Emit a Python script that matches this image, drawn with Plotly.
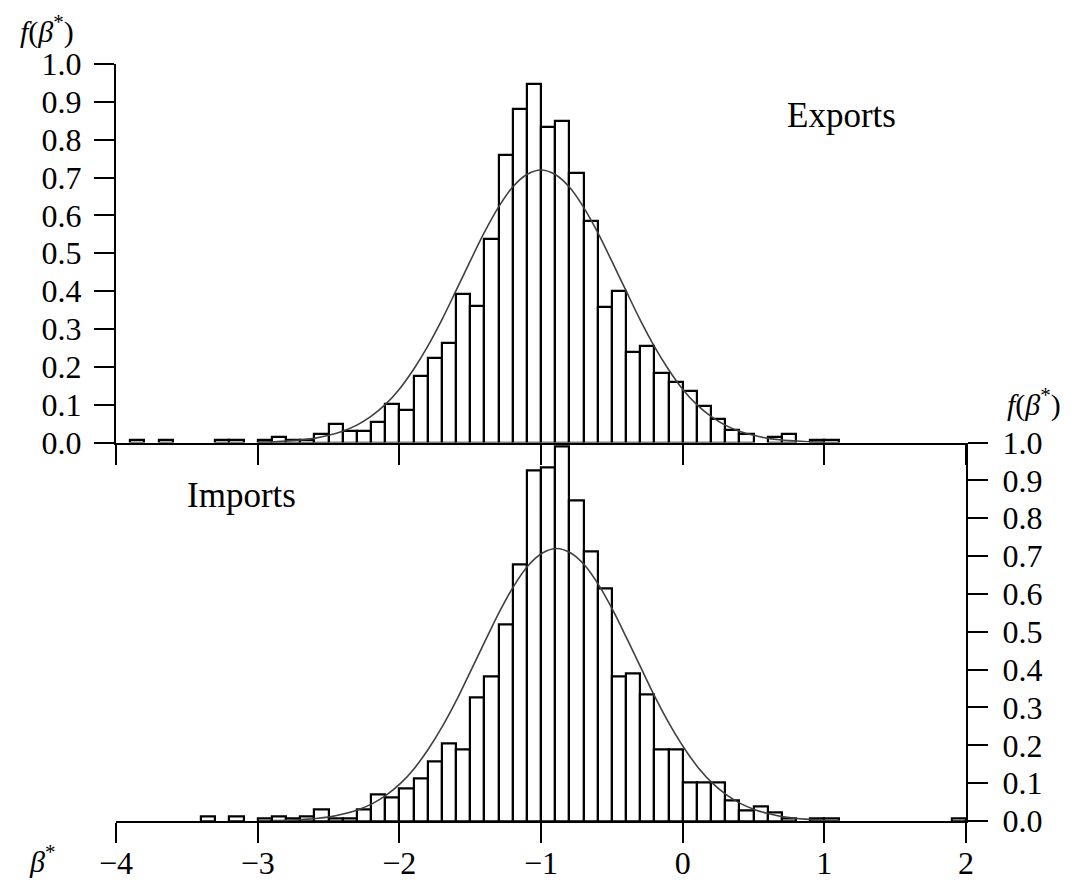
import plotly.graph_objects as go

# ---- Exports histogram (bin left edges, width 0.1) ----
exp_edges = [-3.9, -3.7, -3.3, -3.2, -3.0, -2.9, -2.8, -2.7, -2.6, -2.5, -2.4, -2.3, -2.2,
             -2.1, -2.0, -1.9, -1.8, -1.7, -1.6, -1.5, -1.4, -1.3, -1.2, -1.1, -1.0,
             -0.9, -0.8, -0.7, -0.6, -0.5, -0.4, -0.3, -0.2, -0.1, 0.0, 0.1, 0.2,
             0.3, 0.4, 0.6, 0.7, 0.9, 1.0]
exp_vals = [0.007, 0.007, 0.007, 0.007, 0.007, 0.014, 0.007, 0.007, 0.023, 0.048, 0.030, 0.030, 0.055,
            0.102, 0.085, 0.176, 0.224, 0.263, 0.392, 0.360, 0.537, 0.760, 0.882, 0.946, 0.834,
            0.850, 0.712, 0.586, 0.359, 0.401, 0.240, 0.256, 0.184, 0.160, 0.136, 0.096, 0.062,
            0.032, 0.023, 0.015, 0.023, 0.007, 0.007]

# ---- Imports histogram ----
imp_edges = [-3.4, -3.2, -3.0, -2.9, -2.8, -2.7, -2.6, -2.5, -2.4, -2.3, -2.2, -2.1, -2.0,
             -1.9, -1.8, -1.7, -1.6, -1.5, -1.4, -1.3, -1.2, -1.1, -1.0, -0.9, -0.8,
             -0.7, -0.6, -0.5, -0.4, -0.3, -0.2, -0.1, 0.0, 0.1, 0.2, 0.3, 0.4,
             0.5, 0.6, 0.7, 0.9, 1.0, 1.9]
imp_vals = [0.013, 0.013, 0.006, 0.013, 0.006, 0.013, 0.030, 0.006, 0.006, 0.030, 0.070, 0.063, 0.086,
            0.111, 0.157, 0.206, 0.190, 0.326, 0.381, 0.520, 0.678, 0.925, 0.934, 0.990, 0.846,
            0.712, 0.615, 0.381, 0.390, 0.333, 0.190, 0.190, 0.101, 0.101, 0.101, 0.053, 0.029,
            0.038, 0.022, 0.006, 0.006, 0.006, 0.006]

# ---- fitted density curves ----
exp_curve_x = [-3.0, -2.9, -2.8, -2.7, -2.6, -2.5, -2.4, -2.3, -2.2, -2.1, -2.0,
               -1.9, -1.8, -1.7, -1.6, -1.5, -1.4, -1.3, -1.2, -1.1, -1.0,
               -0.9, -0.8, -0.7, -0.6, -0.5, -0.4, -0.3, -0.2, -0.1, 0.0,
               0.1, 0.2, 0.3, 0.4, 0.5, 0.6, 0.7, 0.8, 0.9, 1.0]
exp_curve_y = [0.001, 0.002, 0.004, 0.0065, 0.011, 0.019, 0.030, 0.046, 0.069, 0.100, 0.141,
               0.193, 0.254, 0.324, 0.401, 0.479, 0.555, 0.622, 0.675, 0.708, 0.720,
               0.708, 0.675, 0.622, 0.555, 0.479, 0.401, 0.324, 0.254, 0.193, 0.141,
               0.100, 0.069, 0.046, 0.030, 0.019, 0.011, 0.0065, 0.004, 0.002, 0.001]

imp_curve_x = [-2.89, -2.79, -2.69, -2.59, -2.49, -2.39, -2.29, -2.19, -2.09, -1.99, -1.89,
               -1.79, -1.69, -1.59, -1.49, -1.39, -1.29, -1.19, -1.09, -0.99, -0.89,
               -0.79, -0.69, -0.59, -0.49, -0.39, -0.29, -0.19, -0.09, 0.01, 0.11,
               0.21, 0.31, 0.41, 0.51, 0.61, 0.71, 0.81, 0.91, 1.01, 1.11]
imp_curve_y = [0.001, 0.002, 0.004, 0.0065, 0.011, 0.019, 0.030, 0.046, 0.069, 0.100, 0.141,
               0.193, 0.254, 0.324, 0.401, 0.479, 0.555, 0.622, 0.675, 0.708, 0.720,
               0.708, 0.675, 0.622, 0.555, 0.479, 0.401, 0.324, 0.254, 0.193, 0.141,
               0.100, 0.069, 0.046, 0.030, 0.019, 0.011, 0.0065, 0.004, 0.002, 0.001]

x_ticks = [-4, -3, -2, -1, 0, 1, 2]
x_ticktext = ["\u22124", "\u22123", "\u22122", "\u22121", "0", "1", "2"]
y_ticks = [0.0, 0.1, 0.2, 0.3, 0.4, 0.5, 0.6, 0.7, 0.8, 0.9, 1.0]
y_ticktext = ["0.0", "0.1", "0.2", "0.3", "0.4", "0.5", "0.6", "0.7", "0.8", "0.9", "1.0"]

FONT = "Liberation Serif"
BIN_W = 0.1

fig = go.Figure()

fig.add_trace(go.Bar(x=exp_edges, y=exp_vals, width=BIN_W, offset=0,
                     marker=dict(color="white", line=dict(color="black", width=2.2)),
                     xaxis="x", yaxis="y", showlegend=False))
fig.add_trace(go.Scatter(x=exp_curve_x, y=exp_curve_y, mode="lines",
                         line=dict(color="#404040", width=1.6, shape="spline"),
                         xaxis="x", yaxis="y", showlegend=False))

fig.add_trace(go.Bar(x=imp_edges, y=imp_vals, width=BIN_W, offset=0,
                     marker=dict(color="white", line=dict(color="black", width=2.2)),
                     xaxis="x2", yaxis="y2", showlegend=False))
fig.add_trace(go.Scatter(x=imp_curve_x, y=imp_curve_y, mode="lines",
                         line=dict(color="#404040", width=1.6, shape="spline"),
                         xaxis="x2", yaxis="y2", showlegend=False))

axis_common = dict(showgrid=False, zeroline=False, showline=True, linecolor="black",
                   linewidth=2.2, ticks="outside", ticklen=20, tickwidth=2.2, tickcolor="black",
                   automargin=False,
                   tickfont=dict(family=FONT, size=32, color="black"))

# the page body has an 8px margin, so the figure is 8px smaller and margins shifted
fig.update_layout(
    width=1067, height=872,
    margin=dict(l=108, r=109, t=56, b=59, autoexpand=False),
    paper_bgcolor="white", plot_bgcolor="white",
    bargap=0,
    xaxis=dict(domain=[0, 1], range=[-4, 2], anchor="y", tickvals=x_ticks,
               showticklabels=False, **axis_common),
    yaxis=dict(domain=[0.5, 1], range=[0, 1.0], anchor="x", side="left",
               tickvals=y_ticks, ticktext=y_ticktext, ticklabelstandoff=6, **axis_common),
    xaxis2=dict(domain=[0, 1], range=[-4, 2], anchor="y2", tickvals=x_ticks,
                ticktext=x_ticktext, ticklabelstandoff=-8, **axis_common),
    yaxis2=dict(domain=[0, 0.5], range=[0, 1.0], anchor="x2", side="right",
                tickvals=y_ticks, ticktext=y_ticktext, ticklabelstandoff=8, **axis_common),
)

ann_font = dict(family=FONT, size=35, color="black")
lab_font = dict(family=FONT, size=30, color="black")
fig.add_annotation(text="Exports", x=1.12, y=0.865, xref="x", yref="y",
                   showarrow=False, font=ann_font, xanchor="center", yanchor="middle")
fig.add_annotation(text="Imports", x=-3.116, y=0.86, xref="x2", yref="y2",
                   showarrow=False, font=ann_font, xanchor="center", yanchor="middle")
fig.add_annotation(text="<i>f</i>(<i>\u03b2</i><sup>*</sup>)", x=-0.081, y=1.0727,
                   xref="paper", yref="paper", showarrow=False, font=lab_font,
                   xanchor="center", yanchor="top", borderpad=0)
fig.add_annotation(text="<i>f</i>(<i>\u03b2</i><sup>*</sup>)", x=1.08, y=0.553,
                   xref="paper", yref="paper", showarrow=False, font=lab_font,
                   xanchor="center", yanchor="middle", borderpad=0)
fig.add_annotation(text="<i>\u03b2</i><sup>*</sup>", x=-0.087, y=-0.0766,
                   xref="paper", yref="paper", showarrow=False, font=lab_font,
                   xanchor="center", yanchor="bottom", borderpad=0)

fig.write_html("out.html")
